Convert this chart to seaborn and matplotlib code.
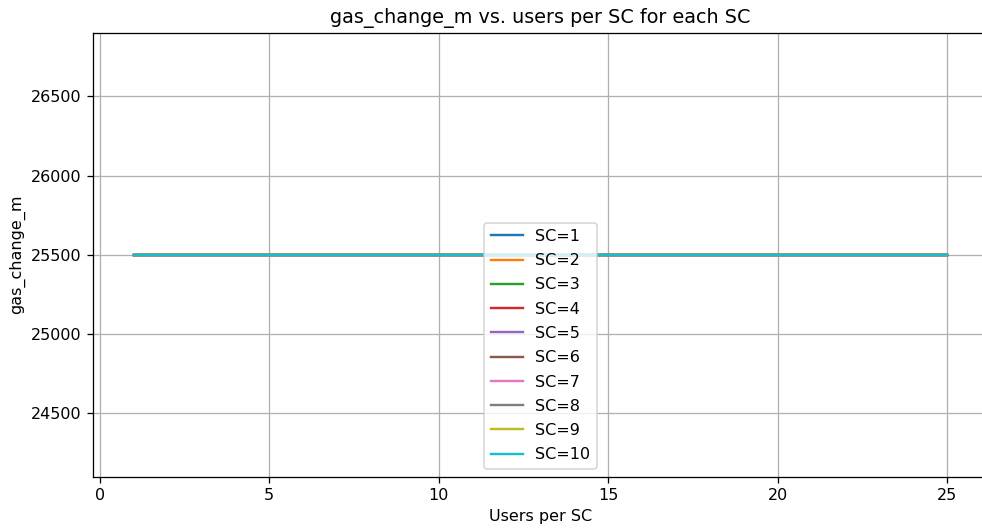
import matplotlib
matplotlib.use("Agg")
import matplotlib.pyplot as plt
import seaborn as sns
import pandas as pd

sc_values = [1, 2, 3, 4, 5, 6, 7, 8, 9, 10]
users_per_sc = list(range(1, 26))
gas_change_m = {sc: [25500] * len(users_per_sc) for sc in sc_values}

colors = sns.color_palette("tab10", len(sc_values))

DPI = 115
fig, ax = plt.subplots(figsize=(982 / DPI, 529 / DPI), dpi=DPI)
for sc, col in zip(sc_values, colors):
    df = pd.DataFrame({"users": users_per_sc, "gas": gas_change_m[sc]})
    sns.lineplot(data=df, x="users", y="gas", color=col, label=f"SC={sc}", ax=ax)

ax.set_title("gas_change_m vs. users per SC for each SC")
ax.set_xlabel("Users per SC")
ax.set_ylabel("gas_change_m")
ax.grid(True)
ax.legend(loc="lower center", fontsize=10, labelspacing=0.58)
fig.subplots_adjust(left=93 / 982, right=988 / 982, top=1 - 32.7 / 529, bottom=1 - 476.7 / 529)
fig.savefig("out.png", dpi=DPI)
